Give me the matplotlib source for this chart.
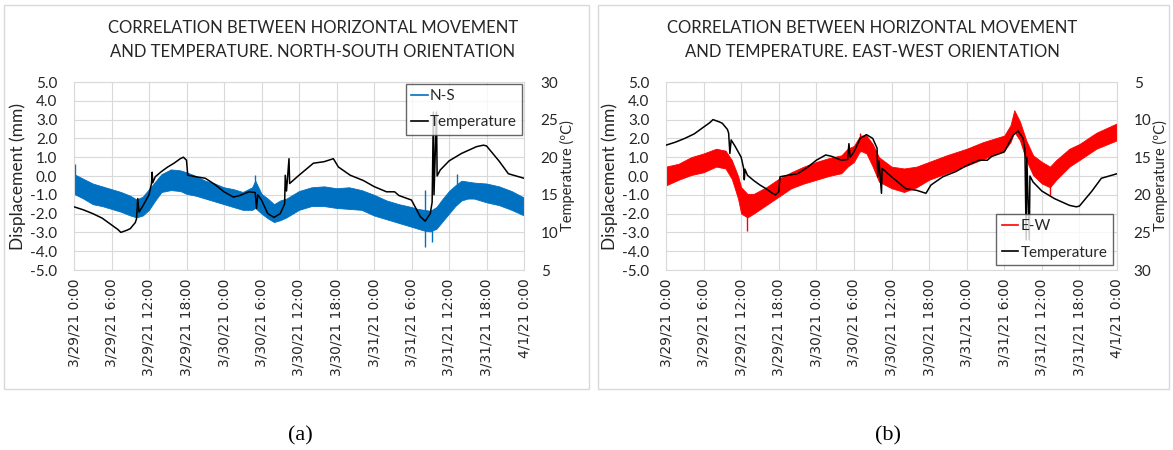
import matplotlib
matplotlib.use("Agg")
import matplotlib.pyplot as plt
from matplotlib.lines import Line2D
from matplotlib.patches import Rectangle

# ---- data (hours since 3/29/21 0:00) ----
tick_hours = [0, 6, 12, 18, 24, 30, 36, 42, 48, 54, 60, 66, 72]
tick_labels = ["3/29/21 0:00", "3/29/21 6:00", "3/29/21 12:00", "3/29/21 18:00",
               "3/30/21 0:00", "3/30/21 6:00", "3/30/21 12:00", "3/30/21 18:00",
               "3/31/21 0:00", "3/31/21 6:00", "3/31/21 12:00", "3/31/21 18:00",
               "4/1/21 0:00"]

# air temperature (ºC)
temp_hours = [0, 1.5, 3, 4.5, 6, 7, 7.5, 8.5, 9, 9.8, 10.0, 10.2, 10.4, 11, 12, 12.4,
              12.5, 12.6, 13, 14, 15, 16, 17, 17.5, 18.0, 18.2, 19.5, 21, 22.5, 24,
              25.5, 26.5, 28, 29.0, 29.2, 29.4, 30, 31, 32, 33, 33.7, 33.8, 34.0,
              34.4, 34.5, 36, 38.3, 40, 41.5, 42.3, 44.2, 46.3, 48, 50, 51.3, 52,
              54, 55.4, 56.2, 57, 57.3, 57.5, 57.6, 58.0, 58.1, 58.6, 60, 62, 64.4,
              65.5, 66, 67, 68, 69.5, 72]
temperature = [13.4, 13.0, 12.5, 11.9, 11.0, 10.4, 10.0, 10.3, 10.5, 11.3, 11.8, 14.5,
               12.7, 13.5, 15.0, 16.5, 18.0, 16.6, 17.4, 18.1, 18.7, 19.2, 19.8, 20.0,
               19.6, 17.6, 17.4, 17.2, 16.4, 15.4, 14.7, 14.9, 15.4, 15.3, 13.2, 15.0,
               14.3, 12.5, 12.0, 12.5, 13.8, 17.6, 15.5, 19.8, 16.5, 17.6, 19.2, 19.4,
               19.8, 18.7, 17.6, 16.9, 16.1, 15.4, 15.4, 14.9, 14.3, 12.1, 11.5, 12.5,
               14.0, 26.0, 15.0, 26.0, 17.5, 18.3, 19.5, 20.5, 21.4, 21.6, 21.5, 20.5,
               19.5, 17.8, 17.2]

# N-S displacement (mm): envelope of the recorded band
ns_hours = [0, 1.5, 3, 4.5, 6, 7.5, 9, 10, 11, 12, 13, 14, 15.5, 17, 18, 19.5, 21,
            22.5, 24, 25.5, 27, 28.5, 29, 29.5, 30, 31, 32, 33, 34, 36, 38, 40, 42,
            44, 46, 48, 50, 52, 54, 55, 56, 57, 58, 59, 60, 61, 62, 63, 64, 66, 68,
            70, 72]
ns_upper = [0.1, -0.15, -0.4, -0.55, -0.7, -0.85, -1.05, -1.25, -1.1, -0.7, -0.3, 0.1,
            0.35, 0.3, 0.2, 0.0, -0.25, -0.4, -0.6, -0.7, -0.85, -0.6, -0.25, -0.6,
            -0.95, -1.2, -1.5, -1.3, -1.2, -0.8, -0.6, -0.55, -0.65, -0.6, -0.75,
            -1.0, -1.3, -1.5, -1.65, -1.75, -1.8, -1.85, -1.65, -1.2, -0.8, -0.5,
            -0.25, -0.3, -0.35, -0.4, -0.55, -0.8, -1.15]
ns_lower = [-0.95, -1.2, -1.5, -1.6, -1.75, -1.9, -2.1, -2.2, -2.1, -1.8, -1.3, -0.85,
            -0.75, -0.8, -0.95, -1.05, -1.2, -1.35, -1.5, -1.65, -1.8, -1.8, -1.7,
            -1.85, -2.0, -2.25, -2.45, -2.35, -2.2, -1.8, -1.6, -1.6, -1.7, -1.75,
            -1.8, -2.1, -2.3, -2.5, -2.7, -2.8, -2.9, -2.95, -2.8, -2.4, -2.0, -1.6,
            -1.3, -1.2, -1.2, -1.4, -1.55, -1.8, -2.1]
ns_spike_hours = [0.1, 29.0, 56.2, 57.3, 61.2]
ns_spike_low = [-0.9, -1.7, -3.75, -3.5, -1.3]
ns_spike_high = [0.65, 0.05, -0.75, -1.9, 0.1]

# E-W displacement (mm): envelope of the recorded band
ew_hours = [0, 2, 4, 6, 8, 9.5, 10.5, 11.5, 12, 13, 14, 16, 18, 20, 22, 24, 26, 28,
            29, 30, 31, 32, 33, 34, 36, 38, 40, 42, 44.8, 48, 50.6, 54, 55, 55.6,
            56.5, 57.5, 58.6, 60, 61.3, 62.3, 64.4, 66, 68.7, 72]
ew_upper = [0.5, 0.65, 1.0, 1.2, 1.45, 1.35, 0.85, 0.0, -0.6, -0.95, -0.95, -0.6,
            -0.15, 0.2, 0.5, 0.75, 0.95, 1.1, 1.45, 1.6, 2.15, 2.15, 1.7, 1.0, 0.5,
            0.4, 0.5, 0.75, 1.1, 1.45, 1.8, 2.15, 2.7, 3.5, 2.9, 1.9, 1.1, 0.75, 0.5,
            0.85, 1.45, 1.7, 2.3, 2.8]
ew_lower = [-0.5, -0.2, 0.05, 0.2, 0.5, 0.4, -0.15, -1.2, -2.0, -2.2, -2.0, -1.55,
            -1.1, -0.65, -0.4, -0.2, 0.0, 0.15, 0.5, 0.75, 1.35, 1.2, 0.5, -0.3,
            -0.65, -0.85, -0.6, -0.2, 0.15, 0.55, 0.9, 1.35, 1.8, 2.35, 1.9, 0.85,
            0.05, -0.4, -0.6, -0.2, 0.5, 0.85, 1.45, 1.9]
ew_spike_hours = [13.0, 31.0, 61.3]
ew_spike_low = [-2.9, 1.3, -1.0]
ew_spike_high = [-1.0, 2.3, 0.4]

BLUE = "#0070C0"
RED = "#FF0000"
GRID = "#D9D9D9"
TXT = "#262626"

plt.rcParams["font.family"] = ["Lato", "DejaVu Sans"]

fig = plt.figure(figsize=(11.73, 4.5), dpi=100)
W, H = 1173, 450


def fx(px):
    return px / W


def fy(py):
    return 1 - py / H


# panel frames
for x0, x1 in [(4, 589), (598, 1169)]:
    fig.patches.append(Rectangle((fx(x0), fy(389)), fx(x1 - x0), (389 - 5) / H,
                                 transform=fig.transFigure, fill=False,
                                 edgecolor=GRID, linewidth=1.0))


def panel(left_px, right_px, hours, upper, lower, sp_h, sp_lo, sp_hi, color,
          label, title, title_x, temp_inverted, legend_loc, legend_anchor,
          caption, cap_x):
    ax = fig.add_axes([fx(left_px), fy(270), fx(right_px - left_px), (270 - 82) / H])
    ax.fill_between(hours, lower, upper, color=color, linewidth=0.6,
                    edgecolor=color, zorder=2)
    ax.vlines(sp_h, sp_lo, sp_hi, color=color, linewidth=1.0, zorder=2)
    ax.set_xlim(0, 72)
    ax.set_ylim(-5, 5)
    ax.set_yticks([-5, -4, -3, -2, -1, 0, 1, 2, 3, 4, 5])
    ax.set_yticklabels([f"{v:.1f}" for v in range(-5, 6)])
    ax.set_xticks(tick_hours)
    ax.set_xticklabels(tick_labels, rotation=90, fontsize=10,
                       fontfamily="DejaVu Sans", color=TXT)
    ax.grid(True, color=GRID, linewidth=0.8, zorder=0)
    ax.set_axisbelow(True)
    ax.tick_params(axis="both", length=0, colors=TXT)
    ax.tick_params(axis="y", labelsize=11, pad=12)
    ax.tick_params(axis="x", pad=6)
    for s in ax.spines.values():
        s.set_color(GRID)
        s.set_linewidth(0.8)
    ax.set_ylabel("Displacement (mm)", fontsize=12.5, color=TXT, labelpad=3)

    ax2 = ax.twinx()
    ax2.plot(temp_hours, temperature, color="black", linewidth=1.1, zorder=3)
    if temp_inverted:
        ax2.set_ylim(30, 5)
    else:
        ax2.set_ylim(5, 30)
    ax2.set_yticks([5, 10, 15, 20, 25, 30])
    ax2.tick_params(axis="y", length=0, labelsize=11, colors=TXT, pad=12)
    for s in ax2.spines.values():
        s.set_visible(False)
    ax2.set_ylabel("Temperature (ºC)", fontsize=10.5, color=TXT, labelpad=1)

    handles = [Line2D([], [], color=color, linewidth=1.2),
               Line2D([], [], color="black", linewidth=1.2)]
    leg = ax2.legend(handles, [label, "Temperature"], loc=legend_loc,
                     bbox_to_anchor=legend_anchor, borderaxespad=0,
                     fontsize=11, frameon=True, fancybox=False,
                     handlelength=1.1, handletextpad=0.15, labelspacing=0.8,
                     borderpad=0.35)
    leg.get_frame().set_edgecolor("#404040")
    leg.get_frame().set_linewidth(1.0)
    for t in leg.get_texts():
        t.set_color(TXT)

    fig.text(fx(title_x), fy(28), title[0], ha="center", va="center",
             fontsize=12, color=TXT)
    fig.text(fx(title_x), fy(52), title[1], ha="center", va="center",
             fontsize=12, color=TXT)
    fig.text(fx(cap_x), fy(436), caption, ha="center", va="center",
             fontsize=16, fontfamily="Liberation Serif", color="black")


panel(74, 524, ns_hours, ns_upper, ns_lower, ns_spike_hours, ns_spike_low,
      ns_spike_high, BLUE, "N-S",
      ("CORRELATION BETWEEN HORIZONTAL MOVEMENT",
       "AND TEMPERATURE. NORTH-SOUTH ORIENTATION"), 313,
      False, "upper right", (0.996, 0.99), "(a)", 300)

panel(666, 1117, ew_hours, ew_upper, ew_lower, ew_spike_hours, ew_spike_low,
      ew_spike_high, RED, "E-W",
      ("CORRELATION BETWEEN HORIZONTAL MOVEMENT",
       "AND TEMPERATURE. EAST-WEST ORIENTATION"), 872,
      True, "lower right", (0.991, 0.027), "(b)", 888)

fig.savefig("out.png", dpi=100)
